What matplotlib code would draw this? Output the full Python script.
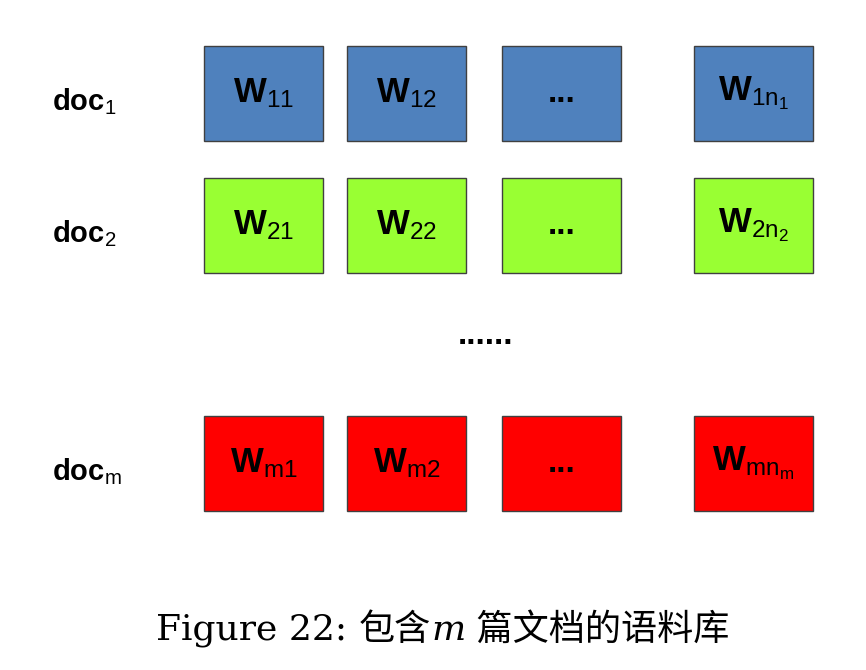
import matplotlib
matplotlib.use("Agg")
import matplotlib.pyplot as plt
from matplotlib.patches import Rectangle

plt.rcParams['mathtext.fontset'] = 'custom'
plt.rcParams['mathtext.rm'] = 'Liberation Sans'
plt.rcParams['mathtext.it'] = 'Liberation Sans:italic'
plt.rcParams['mathtext.bf'] = 'Liberation Sans:bold'

row_labels = [r'$\mathbf{doc}_{\mathrm{1}}$', r'$\mathbf{doc}_{\mathrm{2}}$', r'$\mathbf{doc}_{\mathrm{m}}$']
cell_labels = [
    [r'$\mathbf{W}_{\mathrm{11}}$', r'$\mathbf{W}_{\mathrm{12}}$', '...', r'$\mathbf{W}_{\mathrm{1n_1}}$'],
    [r'$\mathbf{W}_{\mathrm{21}}$', r'$\mathbf{W}_{\mathrm{22}}$', '...', r'$\mathbf{W}_{\mathrm{2n_2}}$'],
    [r'$\mathbf{W}_{\mathrm{m1}}$', r'$\mathbf{W}_{\mathrm{m2}}$', '...', r'$\mathbf{W}_{\mathrm{mn_m}}$'],
]
row_colors = ['#4F81BD', '#99FF33', '#FF0000']
col_x = [204, 347, 502, 694]
row_y = [46, 178, 416]
box_w, box_h = 119, 95
caption_parts = [('Figure 22: ', 'normal'), ('包含', 'normal'), ('m', 'italic'), (' 篇文档的语料库', 'normal')]

fig = plt.figure(figsize=(8.66, 6.70), dpi=100)
ax = fig.add_axes([0, 0, 1, 1])
ax.set_xlim(0, 866)
ax.set_ylim(670, 0)
ax.axis('off')

for r, (lab, color, y) in enumerate(zip(row_labels, row_colors, row_y)):
    ax.text(52, y + box_h / 2 + 8, lab, fontsize=21, ha='left', va='center')
    for c, x in enumerate(col_x):
        ax.add_patch(Rectangle((x, y), box_w, box_h, facecolor=color,
                               edgecolor='#404040', linewidth=1))
        t = cell_labels[r][c]
        if t == '...':
            ax.text(x + box_w / 2, y + box_h / 2, '...', fontsize=24, fontweight='bold',
                    family='Liberation Sans', ha='center', va='center')
        else:
            ax.text(x + box_w / 2, y + box_h / 2, t, fontsize=25,
                    ha='center', va='center')

ax.text(485, 335, '......', fontsize=24, fontweight='bold', family='Liberation Sans',
        ha='center', va='center')

# caption, drawn piece by piece
fig.canvas.draw()
renderer = fig.canvas.get_renderer()
texts = []
for s, style in caption_parts:
    t = ax.text(0, 630, s, fontsize=26, style=style,
                family=['DejaVu Serif', 'Noto Sans CJK SC'], ha='left', va='center')
    texts.append(t)
widths = [t.get_window_extent(renderer).width for t in texts]
total = sum(widths)
x0 = 443 - total / 2
for t, w in zip(texts, widths):
    t.set_x(x0)
    x0 += w

fig.savefig('out.png', dpi=100)
